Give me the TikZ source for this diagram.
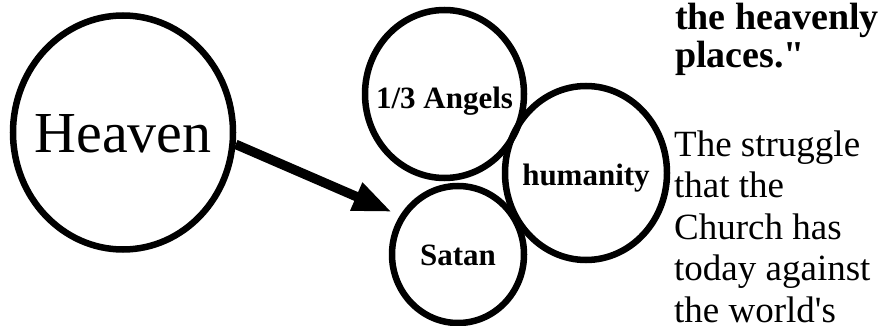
\documentclass[tikz,border=0pt]{standalone}
\usepackage{fontspec}
\setmainfont{Liberation Serif}
\usetikzlibrary{shapes.geometric,arrows.meta}

\newcommand{\ringtext}[1]{\makebox[0pt]{#1}}

\tikzset{
  ring/.style={ellipse, draw=black, line width=6.5pt, inner sep=0pt, text depth=0pt},
  ringlabel/.style={font=\fontsize{31}{31}\selectfont\bfseries},
  pointer/.style={line width=9.5pt, -{Triangle[length=39pt, width=28pt]}},
  sidetext/.style={inner sep=0pt, anchor=base west, align=left}
}

\begin{document}
\begin{tikzpicture}[x=1pt, y=-1pt]
\useasboundingbox (0,0) rectangle (878,326);

\node[ring, minimum width=220pt, minimum height=234pt, text height=40pt,
  font=\fontsize{58}{58}\selectfont] (heaven) at (123,132.5) {\ringtext{Heaven}};
\node[ring, ringlabel, minimum width=159pt, minimum height=168pt, text height=30pt] (angels) at (444.5,94) {\ringtext{1/3 Angels}};
\node[ring, ringlabel, minimum width=162pt, minimum height=174pt, text height=24pt] (humanity) at (586,173) {\ringtext{humanity}};
\node[ring, ringlabel, minimum width=132pt, minimum height=137pt, text height=21pt] (satan) at (458,254.5) {\ringtext{Satan}};

\coordinate (tip) at (392,212);
\draw[pointer] (heaven.-6) -- (tip);

\node[sidetext, font=\fontsize{38}{38}\selectfont\bfseries] (quote) at (675,68) {the heavenly\\places.\textquotedbl};
\node[sidetext, font=\fontsize{37}{41.5}\selectfont] (struggle) at (674,322)
  {The struggle\\that the\\Church has\\today against\\the world\textquotesingle s};
\end{tikzpicture}
\end{document}
